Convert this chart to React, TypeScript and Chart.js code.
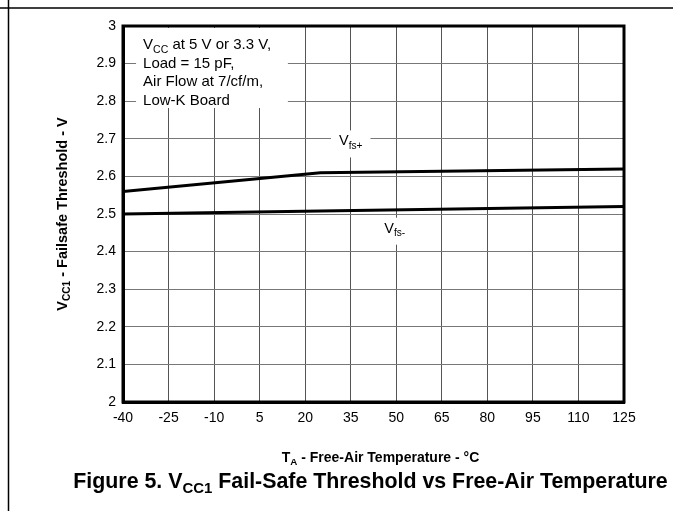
import React, { useEffect, useRef } from "react";
import { Chart, registerables } from "chart.js";

Chart.register(...registerables);

const tempTicks = [-40, -25, -10, 5, 20, 35, 50, 65, 80, 95, 110, 125];
const tempTickLabels = ["-40", "-25", "-10", "5", "20", "35", "50", "65", "80", "95", "110", "125"];
const voltTicks = [2, 2.1, 2.2, 2.3, 2.4, 2.5, 2.6, 2.7, 2.8, 2.9, 3];
const voltTickLabels = ["2", "2.1", "2.2", "2.3", "2.4", "2.5", "2.6", "2.7", "2.8", "2.9", "3"];

const vfsPlusTemp = [-40, 25, 125];
const vfsPlusVolt = [2.56, 2.61, 2.62];
const vfsMinusTemp = [-40, 25, 125];
const vfsMinusVolt = [2.5, 2.508, 2.52];

const noteLines = [
  [{ t: "V" }, { t: "CC", sub: true }, { t: " at 5 V or 3.3 V," }],
  [{ t: "Load = 15 pF," }],
  [{ t: "Air Flow at 7/cf/m," }],
  [{ t: "Low-K Board" }],
];

const FONT = '"Liberation Sans", Arial, Helvetica, sans-serif';

type Part = { t: string; sub?: boolean };

function richWidth(ctx: CanvasRenderingContext2D, parts: Part[], size: number, bold: boolean) {
  let w = 0;
  for (const p of parts) {
    const s = p.sub ? size * 0.7 : size;
    ctx.font = `${bold ? "bold " : ""}${s}px ${FONT}`;
    w += ctx.measureText(p.t).width;
  }
  return w;
}

function drawRich(
  ctx: CanvasRenderingContext2D,
  parts: Part[],
  x: number,
  y: number,
  size: number,
  bold: boolean,
  align: "left" | "center"
) {
  const w = richWidth(ctx, parts, size, bold);
  let cx = align === "center" ? x - w / 2 : x;
  ctx.textBaseline = "middle";
  ctx.textAlign = "left";
  ctx.fillStyle = "#000";
  for (const p of parts) {
    const s = p.sub ? size * 0.7 : size;
    ctx.font = `${bold ? "bold " : ""}${s}px ${FONT}`;
    ctx.fillText(p.t, cx, p.sub ? y + size * 0.32 : y);
    cx += ctx.measureText(p.t).width;
  }
}

const decorPlugin = {
  id: "decor",
  beforeDatasetsDraw(chart: any) {
    const ctx: CanvasRenderingContext2D = chart.ctx;
    const xs = chart.scales.x;
    const ys = chart.scales.y;
    ctx.save();
    // note box
    const bx0 = xs.getPixelForValue(-35.7);
    const bx1 = xs.getPixelForValue(14.3);
    const by0 = ys.getPixelForValue(3);
    const by1 = ys.getPixelForValue(2.782);
    ctx.fillStyle = "#fff";
    ctx.fillRect(bx0, by0 + 2, bx1 - bx0, by1 - by0 - 2);
    noteLines.forEach((ln, i) => {
      drawRich(ctx, ln as Part[], bx0 + 7, by0 + 19 + i * 18.5, 15, false, "left");
    });
    // series labels
    const lbls: { parts: Part[]; x: number; y: number }[] = [
      { parts: [{ t: "V" }, { t: "fs+", sub: true }], x: 35, y: 2.693 },
      { parts: [{ t: "V" }, { t: "fs-", sub: true }], x: 49.5, y: 2.461 },
    ];
    for (const l of lbls) {
      const px = xs.getPixelForValue(l.x);
      const py = ys.getPixelForValue(l.y);
      const w = richWidth(ctx, l.parts, 14.5, false);
      ctx.fillStyle = "#fff";
      ctx.fillRect(px - w / 2 - 8, py - 11, w + 16, 27);
      drawRich(ctx, l.parts, px, py, 14.5, false, "center");
    }
    ctx.restore();
  },
  afterDraw(chart: any) {
    const ctx: CanvasRenderingContext2D = chart.ctx;
    const a = chart.chartArea;
    ctx.save();
    // plot frame
    ctx.strokeStyle = "#000";
    ctx.lineWidth = 3;
    ctx.strokeRect(a.left, a.top, a.right - a.left, a.bottom - a.top);
    // page lines
    ctx.lineWidth = 1.5;
    ctx.beginPath();
    ctx.moveTo(0, 8);
    ctx.lineTo(673, 8);
    ctx.moveTo(8.5, 0);
    ctx.lineTo(8.5, 511);
    ctx.stroke();
    // x title
    const cxp = (a.left + a.right) / 2 + 7;
    drawRich(
      ctx,
      [{ t: "T" }, { t: "A", sub: true }, { t: " - Free-Air Temperature - °C" }],
      cxp,
      458,
      14,
      true,
      "center"
    );
    // y title
    ctx.save();
    ctx.translate(63, (a.top + a.bottom) / 2);
    ctx.rotate(-Math.PI / 2);
    drawRich(
      ctx,
      [{ t: "V" }, { t: "CC1", sub: true }, { t: " - Failsafe Threshold - V" }],
      0,
      0,
      14.5,
      true,
      "center"
    );
    ctx.restore();
    // caption
    const cap: Part[] = [
      { t: "Figure 5. V" },
      { t: "CC1", sub: true },
      { t: " Fail-Safe Threshold vs Free-Air Temperature" },
    ];
    const w16 = richWidth(ctx, cap, 16, true);
    const size = (16 * 595) / w16;
    drawRich(ctx, cap, 370.5, 482, size, true, "center");
    ctx.restore();
  },
};

export default function App() {
  const ref = useRef<HTMLCanvasElement | null>(null);
  useEffect(() => {
    if (!ref.current) return;
    const chart = new Chart(ref.current, {
      type: "line",
      data: {
        datasets: [
          {
            label: "Vfs+",
            data: vfsPlusTemp.map((x, i) => ({ x, y: vfsPlusVolt[i] })),
            borderColor: "#000",
            borderWidth: 3,
            pointRadius: 0,
            tension: 0,
          },
          {
            label: "Vfs-",
            data: vfsMinusTemp.map((x, i) => ({ x, y: vfsMinusVolt[i] })),
            borderColor: "#000",
            borderWidth: 3,
            pointRadius: 0,
            tension: 0,
          },
        ],
      },
      options: {
        responsive: false,
        animation: false,
        devicePixelRatio: 1,
        layout: { padding: { top: 26, right: 49, left: 0, bottom: 0 } },
        plugins: { legend: { display: false }, tooltip: { enabled: false } },
        scales: {
          x: {
            type: "linear",
            min: -40,
            max: 125,
            afterBuildTicks: (s: any) => {
              s.ticks = tempTicks.map((v) => ({ value: v }));
            },
            afterFit: (s: any) => {
              s.height = 109;
            },
            ticks: {
              callback: (_v: any, i: number) => tempTickLabels[i],
              color: "#000",
              font: { family: FONT, size: 14 },
              padding: 8,
              maxRotation: 0,
              autoSkip: false,
            },
            grid: { color: "#555", lineWidth: 1, drawTicks: false },
            border: { display: true, color: "#000", width: 3 },
          },
          y: {
            type: "linear",
            min: 2,
            max: 3,
            afterBuildTicks: (s: any) => {
              s.ticks = voltTicks.map((v) => ({ value: v }));
            },
            afterFit: (s: any) => {
              s.width = 123;
            },
            ticks: {
              callback: (_v: any, i: number) => voltTickLabels[i],
              color: "#000",
              font: { family: FONT, size: 14 },
              padding: 7,
              autoSkip: false,
            },
            grid: { color: "#777", lineWidth: 1, drawTicks: false },
            border: { display: true, color: "#000", width: 3 },
          },
        },
      },
      plugins: [decorPlugin],
    } as any);
    return () => chart.destroy();
  }, []);
  return (
    <div style={{ position: "fixed", left: 0, top: 0, width: 673, height: 511, background: "#fff" }}>
      <canvas ref={ref} width={673} height={511} style={{ width: 673, height: 511, display: "block" }} />
    </div>
  );
}
